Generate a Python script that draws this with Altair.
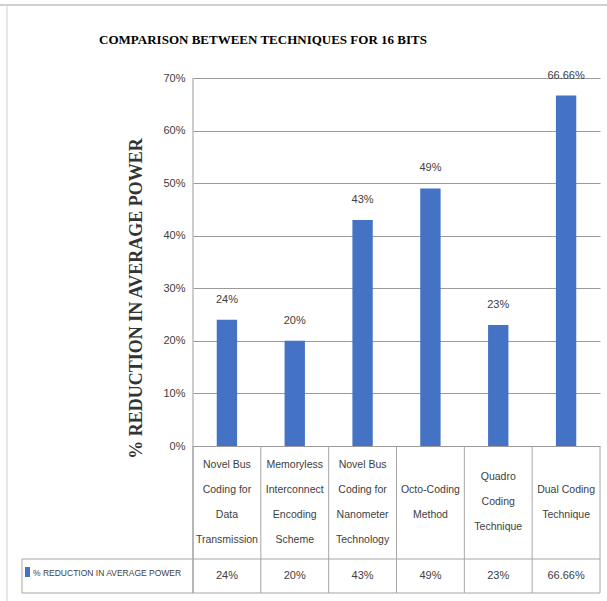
import altair as alt
import pandas as pd

# ---- data ----
categories = [
    "Novel Bus\nCoding for\nData\nTransmission",
    "Memoryless\nInterconnect\nEncoding\nScheme",
    "Novel Bus\nCoding for\nNanometer\nTechnology",
    "Octo-Coding\nMethod",
    "Quadro\nCoding\nTechnique",
    "Dual Coding\nTechnique",
]
values = [24, 20, 43, 49, 23, 66.66]
value_labels = ["24%", "20%", "43%", "49%", "23%", "66.66%"]
y_ticks = [0, 10, 20, 30, 40, 50, 60, 70]
series_name = "% REDUCTION IN AVERAGE POWER"
title_text = "COMPARISON BETWEEN TECHNIQUES FOR 16 BITS"

# ---- styling ----
W, H = 407, 368
BLUE = "#4472C4"
SANS = "Liberation Sans, Arial, sans-serif"
SERIF = "Liberation Serif, DejaVu Serif, serif"
TXT = "#404040"
LINE = "#a6a6a6"
LINE_H = 25

df = pd.DataFrame({"idx": list(range(len(categories))), "cat": categories,
                   "value": values, "label": value_labels})
df["left"] = df["idx"] + 0.35
df["right"] = df["idx"] + 0.65
df["center"] = df["idx"] + 0.5
bounds = pd.DataFrame({"b": list(range(len(categories) + 1))})
one = pd.DataFrame({"t": [series_name], "title": [title_text]})

xs = alt.Scale(domain=[0, len(categories)], nice=False, zero=False)
ys = alt.Scale(domain=[0, 70], nice=False)

base = alt.Chart(df)

bars = base.mark_bar(color=BLUE).encode(
    x=alt.X("left:Q", scale=xs, axis=None),
    x2="right:Q",
    y=alt.Y("value:Q", scale=ys, axis=alt.Axis(
        values=y_ticks, labelExpr="datum.value + '%'", grid=True,
        gridColor="#9a9a9a", gridWidth=1, domain=False, ticks=False,
        labelPadding=8, labelFont=SANS, labelFontSize=11, labelColor=TXT,
        title=series_name, titleFont=SERIF, titleFontSize=18, titleFontWeight="bold",
        titleColor="#333333", titleAngle=270, titleAlign="center", titleBaseline="middle",
        titleX=-57, titleY=220)),
    y2=alt.datum(0),
)

bar_labels = base.mark_text(baseline="middle", dy=-20, font=SANS, fontSize=11, color=TXT).encode(
    x=alt.X("center:Q", scale=xs), y=alt.Y("value:Q", scale=ys), text="label:N")

# multi-line category labels, block centred in the cell under the bars
cat_labels = base.transform_calculate(
    ypix=f"424 - (length(split(datum.cat, '\\n')) - 1) * {LINE_H / 2}"
).mark_text(baseline="middle", lineBreak="\n", lineHeight=LINE_H, font=SANS,
            fontSize=10.5, color=TXT).encode(
    x=alt.X("center:Q", scale=xs), y=alt.Y("ypix:Q", scale=None), text="cat:N")

row_values = base.mark_text(baseline="middle", font=SANS, fontSize=11, color=TXT).encode(
    x=alt.X("center:Q", scale=xs), y=alt.value(498), text="label:N")

separators = alt.Chart(bounds).mark_rule(color=LINE, strokeWidth=1).encode(
    x=alt.X("b:Q", scale=xs), y=alt.value(368), y2=alt.value(515))

def rule(x, x2, y, y2, color=LINE):
    return alt.Chart(one).mark_rule(color=color, strokeWidth=1).encode(
        x=alt.value(x), x2=alt.value(x2), y=alt.value(y), y2=alt.value(y2))

axis_line = rule(0, 0, 0, 515, "#9a9a9a")
table_top = rule(-171, W, 481, 481)
table_bot = rule(-171, W, 515, 515)
table_left = rule(-171, -171, 481, 515)
frame_top = rule(-193, W + 7, -73, -73, "#a0a0a0")
frame_left = rule(-186, -186, -73, 523, "#d0d0d0")

swatch = alt.Chart(one).mark_rect(color=BLUE).encode(
    x=alt.value(-168), x2=alt.value(-163), y=alt.value(489), y2=alt.value(499))
legend_text = alt.Chart(one).mark_text(align="left", baseline="middle", font=SANS,
                                       fontSize=8.5, color=TXT).encode(
    x=alt.value(-160), y=alt.value(495), text="t:N")

title = alt.Chart(one).mark_text(align="center", baseline="middle", font=SERIF,
                                 fontSize=13, fontWeight="bold", color="black").encode(
    x=alt.value(70), y=alt.value(-38), text="title:N")

chart = alt.layer(
    bars, bar_labels, separators, axis_line, table_top, table_bot, table_left,
    frame_top, frame_left, cat_labels, row_values, swatch, legend_text, title,
).properties(
    width=W, height=H,
    padding={"left": 193, "top": 78, "right": 7, "bottom": 155},
    autosize=alt.AutoSizeParams(type="none"),
    background="white",
).configure_view(stroke=None)

chart.save("out.html", embed_options={"renderer": "svg", "actions": False})
